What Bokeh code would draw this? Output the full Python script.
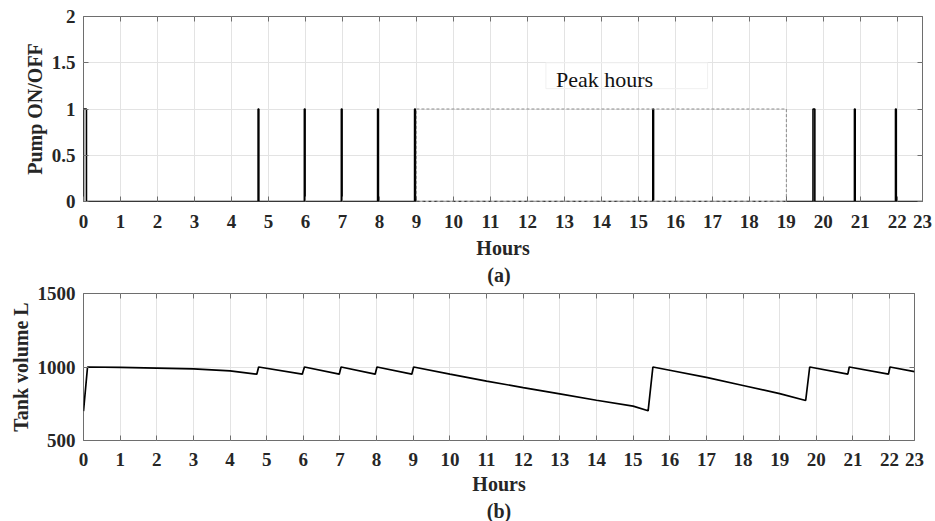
from bokeh.plotting import figure
from bokeh.layouts import column
from bokeh.models import Range1d, FixedTicker, LinearAxis, Label, Title
from bokeh.embed import file_html
from bokeh.resources import INLINE

# ---- data -------------------------------------------------------------
# pump switching intervals (hours)
pump_on = [0.00, 4.72, 5.97, 6.97, 7.95, 8.95, 15.39, 19.72, 20.84, 21.95]
pump_off = [0.08, 4.74, 5.99, 6.99, 7.97, 8.97, 15.41, 19.77, 20.86, 21.97]

# tank volume trace (hours, litres)
tank_t = [0.00, 0.11, 1.0, 2.0, 3.0, 4.0, 4.73, 4.78, 5.97, 6.03, 6.98, 7.03,
          7.96, 8.01, 8.96, 9.01, 10.0, 11.0, 12.0, 13.0, 14.0, 15.0, 15.41,
          15.54, 16.0, 17.0, 18.0, 19.0, 19.71, 19.82, 20.86, 20.90, 21.97,
          22.01, 22.68]
tank_v = [700, 1000, 998, 993, 987, 974, 951, 1000, 951, 1000, 951, 1000,
          951, 1000, 951, 1000, 951, 904, 860, 817, 774, 734, 702,
          1000, 978, 929, 874, 819, 772, 1000, 952, 1000, 951,
          1000, 968]

peak_hours = (9, 19)
x_end = 22.68
hour_ticks = list(range(23)) + [x_end]
hour_labels = [str(h) for h in range(24)]
pump_ticks = [0, 0.5, 1, 1.5, 2]
pump_labels = ["0", "0.5", "1", "1.5", "2"]
tank_ticks = [500, 1000, 1500]

FONT = "Liberation Serif"
INK = "#262626"
FRAME = "#6e6e6e"
GRID = "#e3e3e3"


def pump_trace():
    xs, ys = [0.0], [0.0]
    for a, b in zip(pump_on, pump_off):
        xs += [a, a, b, b]
        ys += [0, 1, 1, 0]
    xs.append(x_end)
    ys.append(0)
    return xs, ys


def style(p, yticks, ylabels, tick_standoff, label_standoff):
    bottom = p.below[0]
    left = p.left[0]
    p.outline_line_color = FRAME
    p.outline_line_width = 1
    p.background_fill_color = "white"
    p.border_fill_color = "white"
    p.xgrid.grid_line_color = GRID
    p.ygrid.grid_line_color = GRID
    bottom.ticker = FixedTicker(ticks=hour_ticks)
    bottom.major_label_overrides = {t: l for t, l in zip(hour_ticks, hour_labels)}
    left.ticker = FixedTicker(ticks=yticks)
    if ylabels:
        left.major_label_overrides = {t: l for t, l in zip(yticks, ylabels)}
    # mirrored tick marks on the top and right edges (no labels)
    top = LinearAxis(ticker=FixedTicker(ticks=hour_ticks))
    right = LinearAxis(ticker=FixedTicker(ticks=yticks))
    top.major_label_overrides = {t: "" for t in hour_ticks}
    right.major_label_overrides = {t: "" for t in yticks}
    p.add_layout(top, "above")
    p.add_layout(right, "right")
    for ax in (bottom, left, top, right):
        ax.axis_line_color = None
        ax.major_tick_in = 5
        ax.major_tick_out = 0
        ax.major_tick_line_color = FRAME
        ax.minor_tick_line_color = None
        ax.major_label_text_font = FONT
        ax.major_label_text_font_style = "bold"
        ax.major_label_text_font_size = "19px"
        ax.major_label_text_color = INK
        ax.axis_label_text_font = FONT
        ax.axis_label_text_font_style = "bold"
        ax.axis_label_text_font_size = "20px"
        ax.axis_label_text_color = INK
    for ax in (top, right):
        ax.major_label_text_font_size = "1px"
        ax.major_label_standoff = 0
    bottom.major_label_standoff = tick_standoff
    bottom.axis_label_standoff = label_standoff
    left.major_label_standoff = 8
    left.axis_label_standoff = 3


def caption(p, txt, place, standoff):
    p.add_layout(Title(text=txt, align="center", offset=5, standoff=standoff,
                       text_font=FONT, text_font_style="bold", text_font_size="20px",
                       text_color=INK), place)


# ---- (a) pump state ------------------------------------------------------
p1 = figure(width=935, height=264, x_range=Range1d(0, x_end), y_range=Range1d(0, 2),
            output_backend="svg", toolbar_location=None, frame_align=False,
            min_border_left=83, min_border_right=13, min_border_top=16, min_border_bottom=63,
            x_axis_label="Hours", y_axis_label="Pump ON/OFF")
style(p1, pump_ticks, pump_labels, 13, 6)
px, py = pump_trace()
p1.line(px, py, line_color="black", line_width=1.6)
p1.quad(left=[peak_hours[0]], right=[peak_hours[1]], bottom=[0], top=[1],
        fill_alpha=0, line_color="#8c8c8c", line_width=1, line_dash="3 2")
# dashed look of the baseline inside the peak window
p1.line([peak_hours[0], peak_hours[1]], [0, 0], line_color="white", line_width=2,
        line_dash="3 3", line_dash_offset=3)
p1.quad(left=[12.5], right=[16.87], bottom=[1.22], top=[1.5],
        fill_alpha=0, line_color="#f0f0f0", line_width=1)
p1.add_layout(Label(x=12.77, y=1.32, text="Peak hours", text_font=FONT,
                    text_font_size="22px", text_color="#111111", text_baseline="middle"))

# ---- (b) tank volume -----------------------------------------------------
# the lower panel tucks up under the upper one; its border is transparent
p2 = figure(width=935, height=268, x_range=Range1d(0, x_end), y_range=Range1d(500, 1500),
            output_backend="svg", toolbar_location=None, frame_align=False,
            min_border_left=83, min_border_right=21, min_border_top=39, min_border_bottom=79,
            x_axis_label="Hours", y_axis_label="Tank volume L",
            margin=(-11, 0, 0, 0))
style(p2, tank_ticks, None, 12, 4)
p2.border_fill_alpha = 0
p2.line(tank_t, tank_v, line_color="black", line_width=1.7)
# panel captions: (a) sits between the two panels, (b) under the lower one
caption(p2, "(a)", "above", 16)
caption(p2, "(b)", "below", 0)

layout = column(p1, p2, spacing=0)
open("out.html", "w").write(file_html(layout, INLINE))
